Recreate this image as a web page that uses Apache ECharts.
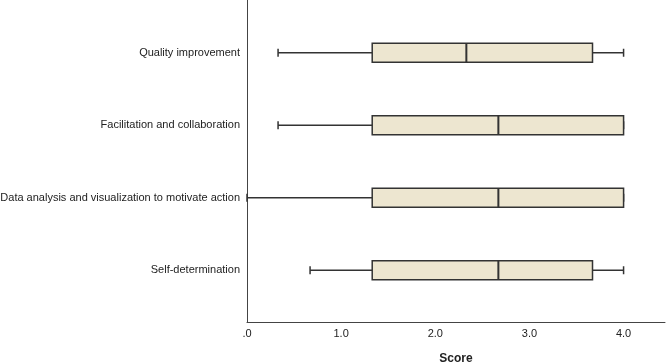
<!DOCTYPE html>
<html>
<head>
<meta charset="utf-8">
<script src="https://cdn.jsdelivr.net/npm/echarts@6/dist/echarts.min.js"></script>
<style>
  html, body { margin: 0; padding: 0; background: #fff; }
  #chart { width: 666px; height: 362px; }
</style>
</head>
<body>
<div id="chart"></div>
<script>
// box plot summary per domain (score 0-4)
var categories = [
    'Quality improvement',
    'Facilitation and collaboration',
    'Data analysis and visualization to motivate action',
    'Self-determination'
];
var minVals    = [0.33, 0.33, 0.00, 0.67];
var q1Vals     = [1.33, 1.33, 1.33, 1.33];
var medianVals = [2.33, 2.67, 2.67, 2.67];
var q3Vals     = [3.67, 4.00, 4.00, 3.67];
var maxVals    = [4.00, 4.00, 4.00, 4.00];
var xTicks = [0, 1, 2, 3, 4];

var data = [];
for (var i = 0; i < categories.length; i++) {
    data.push([i, minVals[i], q1Vals[i], medianVals[i], q3Vals[i], maxVals[i]]);
}

var lineColor = '#333';
var boxFill = '#ede6d0';

function renderBox(params, api) {
    var cat = api.value(0);
    var y = api.coord([0, cat])[1];
    var px = function (v) { return api.coord([v, cat])[0]; };
    var h = 19, cap = 8;
    var xMin = px(api.value(1)), xQ1 = px(api.value(2)), xMed = px(api.value(3)),
        xQ3 = px(api.value(4)), xMax = px(api.value(5));
    var ls = { stroke: lineColor, lineWidth: 1.5 };
    return {
        type: 'group',
        children: [
            { type: 'line', shape: { x1: xMin, y1: y, x2: xQ1, y2: y }, style: ls },
            { type: 'line', shape: { x1: xQ3, y1: y, x2: xMax, y2: y }, style: ls },
            { type: 'line', shape: { x1: xMin, y1: y - cap / 2, x2: xMin, y2: y + cap / 2 }, style: ls },
            { type: 'line', shape: { x1: xMax, y1: y - cap / 2, x2: xMax, y2: y + cap / 2 }, style: ls },
            { type: 'rect', shape: { x: xQ1, y: y - h / 2, width: xQ3 - xQ1, height: h },
              style: { fill: boxFill, stroke: lineColor, lineWidth: 1.5 } },
            { type: 'line', shape: { x1: xMed, y1: y - h / 2, x2: xMed, y2: y + h / 2 },
              style: { stroke: lineColor, lineWidth: 2 } }
        ]
    };
}

var font = '"Liberation Sans", Arial, sans-serif';
var myChart = echarts.init(document.getElementById('chart'));
var option = {
    animation: false,
    grid: [
        { left: 247, right: 1, top: 0, bottom: 40, outerBoundsMode: 'none', containLabel: false },
        { left: 247, right: 1, top: 16.5, bottom: 55.5, outerBoundsMode: 'none', containLabel: false }
    ],
    xAxis: [{
        gridIndex: 0,
        type: 'value',
        min: 0, max: 4.44, interval: 1,
        axisLine: { show: true, lineStyle: { color: '#444', width: 1 } },
        axisTick: { show: false },
        splitLine: { show: false },
        axisLabel: {
            margin: 6,
            color: '#222',
            fontSize: 11,
            fontFamily: font,
            formatter: function (v) {
                if (xTicks.indexOf(v) < 0) return '';
                return v === 0 ? '.0' : v.toFixed(1);
            }
        },
        name: 'Score',
        nameLocation: 'middle',
        nameGap: 31,
        nameTextStyle: { color: '#222', fontSize: 12, fontWeight: 'bold', fontFamily: font }
    }, {
        gridIndex: 1,
        type: 'value',
        min: 0, max: 4.44,
        show: false
    }],
    yAxis: [{
        gridIndex: 0,
        type: 'value',
        min: 0, max: 1,
        axisLine: { show: true, lineStyle: { color: '#444', width: 1 } },
        axisTick: { show: false },
        axisLabel: { show: false },
        splitLine: { show: false }
    }, {
        gridIndex: 1,
        type: 'category',
        data: categories,
        inverse: true,
        axisLine: { show: false },
        axisTick: { show: false },
        splitLine: { show: false },
        axisLabel: { margin: 7, color: '#222', fontSize: 11, fontFamily: font }
    }],
    series: [{
        type: 'custom',
        xAxisIndex: 1,
        yAxisIndex: 1,
        renderItem: renderBox,
        encode: { x: [1, 2, 3, 4, 5], y: 0 },
        data: data
    }]
};
myChart.setOption(option);
</script>
</body>
</html>
